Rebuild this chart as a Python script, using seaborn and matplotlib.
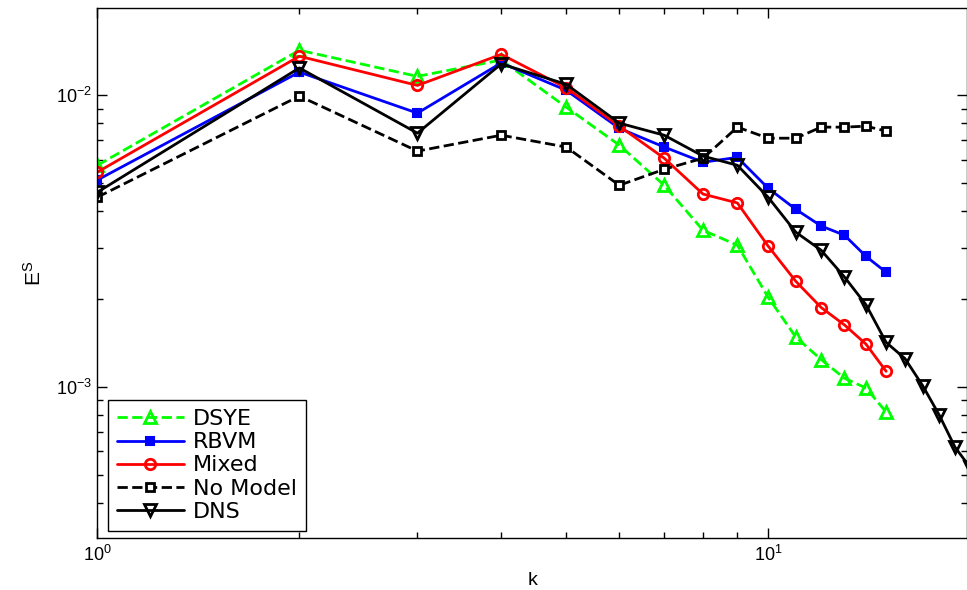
import numpy as np
import pandas as pd
import matplotlib
matplotlib.use("Agg")
import matplotlib.pyplot as plt
import seaborn as sns

k15 = list(range(1, 16))
k20 = list(range(1, 21))

dsye = [5.75e-3, 0.01426, 0.0116, 0.0132, 0.0091, 0.00674, 0.00491, 0.00344,
        0.00306, 0.00203, 0.00148, 0.00124, 0.00107, 9.9e-4, 8.19e-4]
rbvm = [5.12e-3, 0.0120, 8.68e-3, 0.0129, 0.0104, 7.7e-3, 6.64e-3, 5.89e-3,
        6.12e-3, 4.80e-3, 4.06e-3, 3.56e-3, 3.31e-3, 2.80e-3, 2.47e-3]
mixed = [5.45e-3, 0.0136, 0.0108, 0.0138, 0.0106, 7.83e-3, 6.08e-3, 4.58e-3,
         4.27e-3, 3.04e-3, 2.30e-3, 1.87e-3, 1.63e-3, 1.40e-3, 1.13e-3]
nomodel = [4.47e-3, 9.93e-3, 6.43e-3, 7.29e-3, 6.64e-3, 4.91e-3, 5.57e-3, 6.08e-3,
           7.77e-3, 7.12e-3, 7.12e-3, 7.77e-3, 7.77e-3, 7.83e-3, 7.53e-3]
dns = [4.65e-3, 0.0124, 7.41e-3, 0.0128, 0.0109, 8.02e-3, 7.29e-3, 6.18e-3,
       5.75e-3, 4.47e-3, 3.39e-3, 2.94e-3, 2.38e-3, 1.91e-3, 1.42e-3, 1.25e-3,
       1.01e-3, 8.0e-4, 6.21e-4, 5.3e-4]

sns.set_style("ticks")
plt.rcParams['font.family'] = ['Liberation Sans', 'DejaVu Sans']
plt.rcParams['mathtext.fontset'] = 'custom'
plt.rcParams['mathtext.rm'] = 'Liberation Sans'
plt.rcParams['mathtext.it'] = 'Liberation Sans'
plt.rcParams['text.color'] = 'black'
plt.rcParams['axes.labelcolor'] = 'black'
plt.rcParams['xtick.color'] = 'black'
plt.rcParams['ytick.color'] = 'black'

fig = plt.figure(figsize=(9.67, 5.90), dpi=100)
ax = fig.add_axes([0.1008, 0.0881, 0.8992, 0.8983])

lw = 2.0
sns.lineplot(x=k15, y=dsye, ax=ax, color=(0, 1, 0), linestyle='--', linewidth=lw,
             marker='^', markersize=8.5, markerfacecolor='none', markeredgecolor=(0, 1, 0),
             markeredgewidth=2, label='DSYE')
sns.lineplot(x=k15, y=rbvm, ax=ax, color=(0, 0, 1), linestyle='-', linewidth=lw,
             marker='s', markersize=5.5, markerfacecolor=(0, 0, 1), markeredgecolor=(0, 0, 1),
             markeredgewidth=1.5, label='RBVM')
sns.lineplot(x=k15, y=mixed, ax=ax, color=(1, 0, 0), linestyle='-', linewidth=lw,
             marker='o', markersize=7.5, markerfacecolor='none', markeredgecolor=(1, 0, 0),
             markeredgewidth=2, label='Mixed')
sns.lineplot(x=k15, y=nomodel, ax=ax, color='black', linestyle='--', linewidth=lw,
             marker='s', markersize=5.5, markerfacecolor='white', markeredgecolor='black',
             markeredgewidth=2, label='No Model')
sns.lineplot(x=k20, y=dns, ax=ax, color='black', linestyle='-', linewidth=lw,
             marker='v', markersize=9, markerfacecolor='none', markeredgecolor='black',
             markeredgewidth=2, label='DNS')

ax.set_xscale('log')
ax.set_yscale('log')
ax.set_xlim(1, 19.8)
ax.set_ylim(3.03e-4, 0.0199)

for s in ax.spines.values():
    s.set_visible(True)
    s.set_color('black')
    s.set_linewidth(1.0)

ax.tick_params(which='both', direction='in', top=True, right=True, labelsize=13,
               colors='black', labelcolor='black')
ax.tick_params(which='major', length=7, width=1)
ax.tick_params(which='minor', length=4, width=1)
ax.xaxis.set_major_locator(matplotlib.ticker.LogLocator(base=10, numticks=10))
ax.yaxis.set_major_locator(matplotlib.ticker.LogLocator(base=10, numticks=10))
ax.tick_params(axis='x', pad=5)
ax.tick_params(axis='y', pad=4)

ax.set_xlabel('k', fontsize=14, labelpad=5, color='black')
ax.set_ylabel(r'E$^\mathregular{S}$', fontsize=15, labelpad=8, color='black')

leg = ax.legend(loc='lower left', bbox_to_anchor=(0.1114, 0.1), bbox_transform=fig.transFigure,
                borderaxespad=0, frameon=True, fancybox=False, handlelength=3.0,
                prop={'family': 'DejaVu Sans', 'size': 16},
                labelspacing=0.14, borderpad=0.42, handletextpad=0.4, labelcolor='black')
leg.get_frame().set_edgecolor('black')
leg.get_frame().set_linewidth(1.0)
leg.get_frame().set_alpha(1)

fig.savefig('out.png', dpi=100)
